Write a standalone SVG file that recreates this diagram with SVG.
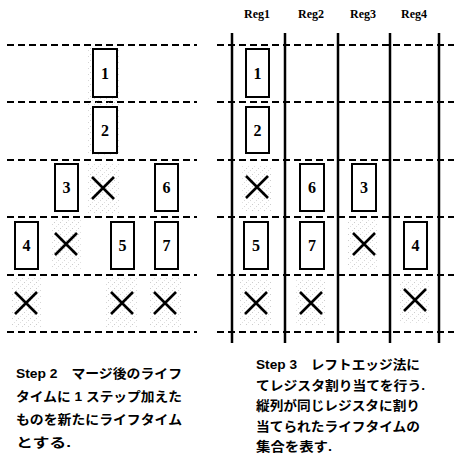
<svg xmlns="http://www.w3.org/2000/svg" width="454" height="463" viewBox="0 0 454 463">
<defs>
<pattern id="dots" width="6" height="6" patternUnits="userSpaceOnUse">
<rect x="0" y="0" width="1" height="1" fill="#aaa"/>
<rect x="4" y="2" width="1" height="1" fill="#bbb"/>
<rect x="2" y="4" width="1" height="1" fill="#ccc"/>
</pattern>
<g id="xm"><path d="M-11,-11 L11,11 M11,-11 L-11,11" stroke="#000" stroke-width="2.6" fill="none"/></g>
</defs>
<style>
.dash{stroke:#000;stroke-width:2;stroke-dasharray:7 4;fill:none}
.vl{stroke:#000;stroke-width:2.5}
.box{fill:#fff;stroke:#000;stroke-width:2}
.num{font-family:"Liberation Serif","DejaVu Serif",serif;font-weight:bold;font-size:16px;text-anchor:middle}
.reg{font-family:"Liberation Serif","DejaVu Serif",serif;font-weight:bold;font-size:12px;text-anchor:middle}
.cap{font-family:"Liberation Sans","Noto Sans CJK JP",sans-serif;font-weight:bold;font-size:13px}
.st{fill:url(#dots);opacity:0.6}
</style>
<rect width="454" height="463" fill="#fff"/>
<g id="connectors">
<line class="dash" x1="7" y1="45" x2="197" y2="45"/>
<line class="dash" x1="7" y1="102" x2="197" y2="102"/>
<line class="dash" x1="7" y1="160" x2="197" y2="160"/>
<line class="dash" x1="7" y1="217" x2="197" y2="217"/>
<line class="dash" x1="7" y1="275" x2="197" y2="275"/>
<line class="dash" x1="7" y1="332" x2="197" y2="332"/>
<line class="dash" x1="217" y1="45" x2="454" y2="45"/>
<line class="dash" x1="217" y1="102" x2="454" y2="102"/>
<line class="dash" x1="217" y1="160" x2="454" y2="160"/>
<line class="dash" x1="217" y1="217" x2="454" y2="217"/>
<line class="dash" x1="217" y1="275" x2="454" y2="275"/>
<line class="dash" x1="217" y1="332" x2="454" y2="332"/>
<line class="vl" x1="232" y1="33" x2="232" y2="343"/>
<line class="vl" x1="285" y1="33" x2="285" y2="343"/>
<line class="vl" x1="338" y1="33" x2="338" y2="343"/>
<line class="vl" x1="390" y1="33" x2="390" y2="343"/>
<line class="vl" x1="439" y1="33" x2="439" y2="343"/>
</g>
<g id="stipple">
<rect class="st" x="88" y="48" width="32" height="108" opacity="0.25"/>
<rect class="st" x="88" y="163" width="32" height="50"/>
<rect class="st" x="52" y="220" width="30" height="50"/>
<rect class="st" x="12" y="278" width="30" height="50"/>
<rect class="st" x="106" y="278" width="32" height="50"/>
<rect class="st" x="150" y="278" width="32" height="50"/>
<rect class="st" x="242" y="166" width="30" height="46"/>
<rect class="st" x="348" y="220" width="30" height="50"/>
<rect class="st" x="240" y="280" width="32" height="46"/>
<rect class="st" x="296" y="280" width="30" height="46"/>
<rect class="st" x="400" y="280" width="30" height="44"/>
</g>
<g id="labels">
<text class="reg" x="257" y="18">Reg1</text>
<text class="reg" x="311" y="18">Reg2</text>
<text class="reg" x="363" y="18">Reg3</text>
<text class="reg" x="414" y="18">Reg4</text>
</g>
<g id="L1"><rect class="box" x="93" y="49" width="24" height="48"/><text class="num" x="105" y="79">1</text></g>
<g id="L2"><rect class="box" x="93" y="107" width="24" height="46"/><text class="num" x="105" y="136">2</text></g>
<g id="L3"><rect class="box" x="55" y="164" width="23" height="47"/><text class="num" x="66.5" y="193">3</text></g>
<g id="LX3"><use href="#xm" x="103" y="188"/></g>
<g id="L6"><rect class="box" x="155" y="164" width="23" height="47"/><text class="num" x="166.5" y="193">6</text></g>
<g id="L4"><rect class="box" x="15" y="222" width="23" height="47"/><text class="num" x="26.5" y="251">4</text></g>
<g id="LX4"><use href="#xm" x="66" y="244"/></g>
<g id="L5"><rect class="box" x="111" y="222" width="23" height="47"/><text class="num" x="122.5" y="251">5</text></g>
<g id="L7"><rect class="box" x="155" y="222" width="23" height="47"/><text class="num" x="166.5" y="251">7</text></g>
<g id="LX5a"><use href="#xm" x="26" y="303"/></g>
<g id="LX5b"><use href="#xm" x="122" y="303"/></g>
<g id="LX5c"><use href="#xm" x="165" y="303"/></g>
<g id="R1"><rect class="box" x="246" y="49" width="23" height="48"/><text class="num" x="257.5" y="79">1</text></g>
<g id="R2"><rect class="box" x="246" y="107" width="23" height="46"/><text class="num" x="257.5" y="136">2</text></g>
<g id="RX3"><use href="#xm" x="257" y="187"/></g>
<g id="R6"><rect class="box" x="300" y="164" width="24" height="47"/><text class="num" x="312" y="193">6</text></g>
<g id="R3"><rect class="box" x="352" y="164" width="24" height="47"/><text class="num" x="364" y="193">3</text></g>
<g id="R5"><rect class="box" x="244" y="222" width="24" height="47"/><text class="num" x="256" y="251">5</text></g>
<g id="R7"><rect class="box" x="300" y="222" width="24" height="47"/><text class="num" x="312" y="251">7</text></g>
<g id="RX4"><use href="#xm" x="364" y="244"/></g>
<g id="R4"><rect class="box" x="404" y="222" width="23" height="47"/><text class="num" x="415.5" y="251">4</text></g>
<g id="RX5a"><use href="#xm" x="256" y="303"/></g>
<g id="RX5b"><use href="#xm" x="311" y="303"/></g>
<g id="RX5c"><use href="#xm" x="415" y="300"/></g>
<g id="caption2">
<text class="cap" x="16" y="378" textLength="166" lengthAdjust="spacingAndGlyphs">Step 2　マージ後のライフ</text>
<text class="cap" x="16" y="401" textLength="166" lengthAdjust="spacingAndGlyphs">タイムに 1 ステップ加えた</text>
<text class="cap" x="16" y="424" textLength="166" lengthAdjust="spacingAndGlyphs">ものを新たにライフタイム</text>
<text class="cap" x="16" y="447" textLength="55" lengthAdjust="spacingAndGlyphs">とする.</text>
</g>
<g id="caption3">
<text class="cap" x="256" y="369" textLength="164" lengthAdjust="spacingAndGlyphs">Step 3　レフトエッジ法に</text>
<text class="cap" x="256" y="390" textLength="169" lengthAdjust="spacingAndGlyphs">てレジスタ割り当てを行う.</text>
<text class="cap" x="256" y="410" textLength="164" lengthAdjust="spacingAndGlyphs">縦列が同じレジスタに割り</text>
<text class="cap" x="256" y="431" textLength="164" lengthAdjust="spacingAndGlyphs">当てられたライフタイムの</text>
<text class="cap" x="256" y="451" textLength="76" lengthAdjust="spacingAndGlyphs">集合を表す.</text>
</g>
</svg>
